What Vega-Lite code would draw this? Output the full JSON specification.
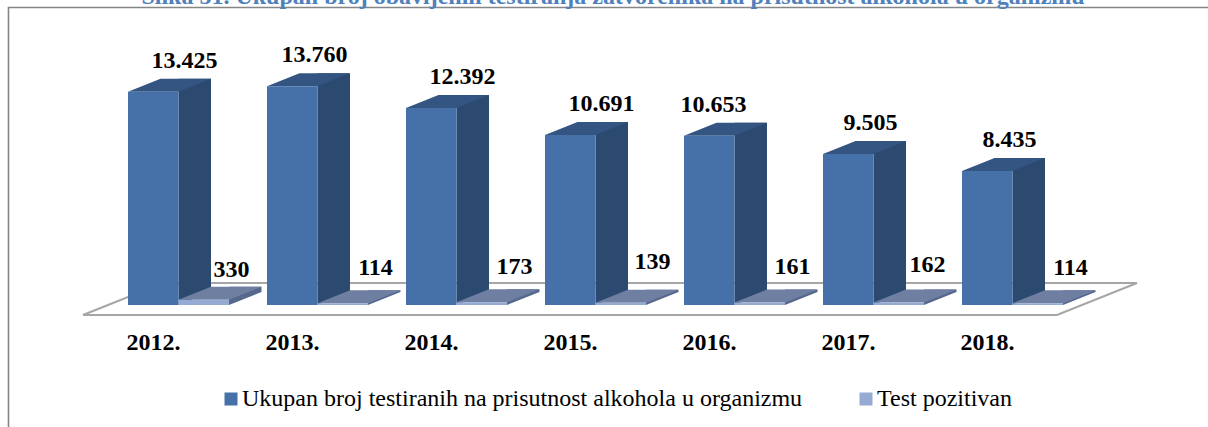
{
"$schema":"https://vega.github.io/schema/vega-lite/v6.json",
"autosize":"none","padding":{"left":8.5,"top":7.5,"right":0,"bottom":0},
"width":1201,"height":421,"background":"white",
"view":{"stroke":"#868686","strokeWidth":1.6,"fill":"white"},
"title":{"text":"Slika 51. Ukupan broj obavljenih testiranja zatvorenika na prisutnost alkohola u organizmu","font":"Liberation Serif","fontWeight":"bold","fontSize":24,"color":"#4F81BD","anchor":"middle","dx":4,"offset":-1},
"data":{"values":[
{"year":"2012.","series":"Ukupan broj testiranih na prisutnost alkohola u organizmu","value":13425,"label":"13.425"},
{"year":"2013.","series":"Ukupan broj testiranih na prisutnost alkohola u organizmu","value":13760,"label":"13.760"},
{"year":"2014.","series":"Ukupan broj testiranih na prisutnost alkohola u organizmu","value":12392,"label":"12.392"},
{"year":"2015.","series":"Ukupan broj testiranih na prisutnost alkohola u organizmu","value":10691,"label":"10.691"},
{"year":"2016.","series":"Ukupan broj testiranih na prisutnost alkohola u organizmu","value":10653,"label":"10.653"},
{"year":"2017.","series":"Ukupan broj testiranih na prisutnost alkohola u organizmu","value":9505,"label":"9.505"},
{"year":"2018.","series":"Ukupan broj testiranih na prisutnost alkohola u organizmu","value":8435,"label":"8.435"},
{"year":"2012.","series":"Test pozitivan","value":330,"label":"330"},
{"year":"2013.","series":"Test pozitivan","value":114,"label":"114"},
{"year":"2014.","series":"Test pozitivan","value":173,"label":"173"},
{"year":"2015.","series":"Test pozitivan","value":139,"label":"139"},
{"year":"2016.","series":"Test pozitivan","value":161,"label":"161"},
{"year":"2017.","series":"Test pozitivan","value":162,"label":"162"},
{"year":"2018.","series":"Test pozitivan","value":114,"label":"114"}
]},
"encoding":{
"x":{"field":"year","type":"nominal","title":null,"scale":{"range":[100.5,1073.5],"paddingInner":0,"paddingOuter":0},
"axis":{"orient":"bottom","offset":-123.5,"domain":false,"ticks":false,"grid":false,"labelAngle":0,"labelFont":"Liberation Serif","labelFontWeight":"bold","labelFontSize":24,"labelColor":"black","labelPadding":25,"labelOffset":-25}},
"y":{"field":"value","type":"quantitative","title":null,"stack":null,"scale":{"domain":[-7772,18722],"nice":false,"zero":false},"axis":null}
},
"layer":[
{"mark":{"type":"point","filled":true,"size":4,"opacity":1,"fill":"white","stroke":"#A6A6A6","strokeWidth":2,"shape":"M-512.5 10 L461.5 10 L541.5 -22 L-432.5 -22 Z"},
 "transform":[{"filter":"datum.year==='2015.' && datum.series==='Test pozitivan'"}],
 "encoding":{"y":{"datum":0}}},
{"transform":[{"filter":"datum.series!=='Test pozitivan'"}],
 "mark":{"type":"bar","width":32.5,"xOffset":16.25,"yOffset":-13,"y2Offset":-13,"color":"#2C4A70"},
 "encoding":{"y2":{"datum":0}}},
{"transform":[{"filter":"datum.series==='Test pozitivan'"}],
 "mark":{"type":"bar","width":32.5,"xOffset":66.75,"yOffset":-13,"y2Offset":-13,"color":"#56688C"},
 "encoding":{"y2":{"datum":0}}},
{"transform":[{"filter":"datum.series!=='Test pozitivan'"}],
 "mark":{"type":"point","filled":true,"size":4,"opacity":1,"color":"#2C4A70","strokeWidth":0,"shape":"M0 0 L32.5 -13 L0 -13 Z"},
 "encoding":{"y":{"datum":0}}},
{"transform":[{"filter":"datum.series==='Test pozitivan'"}],
 "mark":{"type":"point","filled":true,"size":4,"opacity":1,"color":"#56688C","strokeWidth":0,"shape":"M50.5 0 L83 -13 L50.5 -13 Z"},
 "encoding":{"y":{"datum":0}}},
{"transform":[{"filter":"datum.series!=='Test pozitivan'"}],
 "mark":{"type":"point","filled":true,"size":4,"opacity":1,"color":"#345481","strokeWidth":0,"shape":"M-50.5 0 L0 0 L32.5 -13 L-18 -13 Z"}},
{"transform":[{"filter":"datum.series==='Test pozitivan'"}],
 "mark":{"type":"point","filled":true,"size":4,"opacity":1,"color":"#6F7FA1","strokeWidth":0,"shape":"M0 0 L50.5 0 L83 -13 L32.5 -13 Z"}},
{"transform":[{"filter":"datum.series!=='Test pozitivan'"}],
 "mark":{"type":"bar","width":50.5,"xOffset":-25.25},
 "encoding":{
  "color":{"field":"series","type":"nominal","scale":{"domain":["Ukupan broj testiranih na prisutnost alkohola u organizmu","Test pozitivan"],"range":["#4571A8","#95ABD4"]},
   "legend":{"title":null,"orient":"none","legendX":210.5,"legendY":379.5,"direction":"horizontal","columns":2,"symbolType":"square","symbolSize":169,"symbolStrokeWidth":0,"symbolOpacity":1,"labelFont":"Liberation Serif","labelFontSize":24,"labelColor":"black","labelLimit":800,"labelOffset":-1,"columnPadding":51}}
 }},
{"transform":[{"filter":"datum.series==='Test pozitivan'"}],
 "mark":{"type":"bar","width":50.5,"xOffset":25.25},
 "encoding":{
  "color":{"field":"series","type":"nominal"}
 }},
{"transform":[{"filter":"datum.series!=='Test pozitivan' && indexof(['2012.','2014.','2015.'],datum.year)>=0"}],
 "mark":{"type":"text","font":"Liberation Serif","fontWeight":"bold","fontSize":24,"color":"black","dx":6,"dy":-31},"encoding":{"text":{"field":"label"}}},
{"transform":[{"filter":"datum.series!=='Test pozitivan' && indexof(['2013.','2017.','2018.'],datum.year)>=0"}],
 "mark":{"type":"text","font":"Liberation Serif","fontWeight":"bold","fontSize":24,"color":"black","dx":-3,"dy":-31},"encoding":{"text":{"field":"label"}}},
{"transform":[{"filter":"datum.series!=='Test pozitivan' && datum.year==='2016.'"}],
 "mark":{"type":"text","font":"Liberation Serif","fontWeight":"bold","fontSize":24,"color":"black","dx":-21,"dy":-31},"encoding":{"text":{"field":"label"}}},
{"transform":[{"filter":"datum.series==='Test pozitivan' && indexof(['2013.','2014.','2016.','2018.'],datum.year)>=0"}],
 "mark":{"type":"text","font":"Liberation Serif","fontWeight":"bold","fontSize":24,"color":"black","dx":58,"dy":-35},"encoding":{"text":{"field":"label"}}},
{"transform":[{"filter":"datum.series==='Test pozitivan' && datum.year==='2012.'"}],
 "mark":{"type":"text","font":"Liberation Serif","fontWeight":"bold","fontSize":24,"color":"black","dx":53,"dy":-30},"encoding":{"text":{"field":"label"}}},
{"transform":[{"filter":"datum.series==='Test pozitivan' && datum.year==='2017.'"}],
 "mark":{"type":"text","font":"Liberation Serif","fontWeight":"bold","fontSize":24,"color":"black","dx":54,"dy":-37},"encoding":{"text":{"field":"label"}}},
{"transform":[{"filter":"datum.series==='Test pozitivan' && datum.year==='2015.'"}],
 "mark":{"type":"text","font":"Liberation Serif","fontWeight":"bold","fontSize":24,"color":"black","dx":57,"dy":-41},"encoding":{"text":{"field":"label"}}}
]
}
